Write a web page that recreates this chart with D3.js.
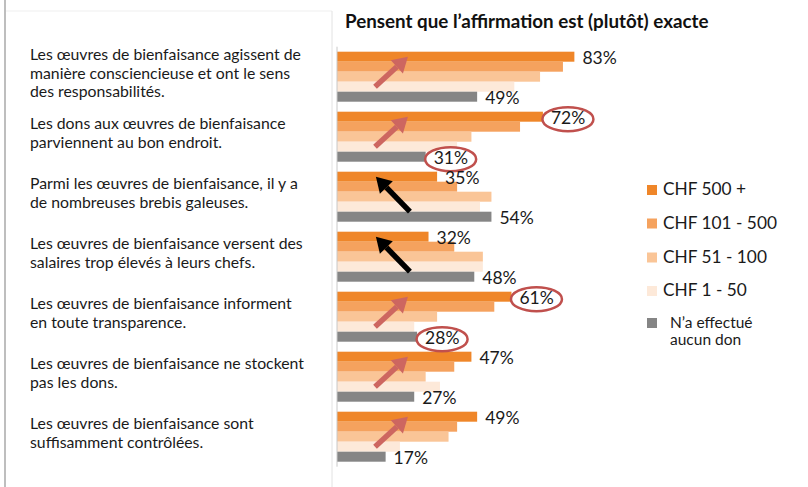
<!DOCTYPE html>
<html><head><meta charset="utf-8">
<script src="https://cdn.jsdelivr.net/npm/d3@7"></script>
<style>html,body{margin:0;padding:0;background:#fff;}svg{display:block;}</style>
</head><body>
<svg id="chart" width="808" height="487"></svg>
<script>
// ---------- data ----------
const title = "Pensent que l’affirmation est (plutôt) exacte";
const categories = [
  ["Les œuvres de bienfaisance agissent de", "manière consciencieuse et ont le sens", "des responsabilités."],
  ["Les dons aux œuvres de bienfaisance", "parviennent au bon endroit."],
  ["Parmi les œuvres de bienfaisance, il y a", "de nombreuses brebis galeuses."],
  ["Les œuvres de bienfaisance versent des", "salaires trop élevés à leurs chefs."],
  ["Les œuvres de bienfaisance informent", "en toute transparence."],
  ["Les œuvres de bienfaisance ne stockent", "pas les dons."],
  ["Les œuvres de bienfaisance sont", "suffisamment contrôlées."]
];
const seriesNames = ["CHF 500 +", "CHF 101 - 500", "CHF 51 - 100", "CHF 1 - 50", "N’a effectué aucun don"];
const chf500 = [83, 72, 35, 32, 61, 47, 49];
const chf101 = [79, 64, 42, 41, 55, 41, 42];
const chf51  = [71, 47, 54, 51, 35, 31, 39];
const chf1   = [62, 42, 50, 51, 27, 36, 22];
const none   = [49, 31, 54, 48, 28, 27, 17];
const seriesValues = [chf500, chf101, chf51, chf1, none];
const seriesColors = ["#EF8629", "#F5A25E", "#FAC597", "#FDE9D9", "#858585"];
// annotations: trend arrow per statement, circled labels
const arrowDir = ["up", "up", "down", "down", "up", "up", "up"];
const circled = [[1, 0], [1, 4], [4, 0], [4, 4]]; // [category, series]

// ---------- layout ----------
const svg = d3.select("#chart");
const font = "Lato, 'Open Sans', sans-serif";

// frame lines
svg.append("line").attr("x1", 5).attr("x2", 5).attr("y1", 0).attr("y2", 487)
  .attr("stroke", "#a8a8a8").attr("stroke-width", 1.5);
svg.append("line").attr("x1", 6).attr("x2", 332).attr("y1", 11).attr("y2", 11)
  .attr("stroke", "#efefef").attr("stroke-width", 1);
svg.append("line").attr("x1", 332).attr("x2", 332).attr("y1", 11).attr("y2", 487)
  .attr("stroke", "#e2e2e2").attr("stroke-width", 1);

const x = d3.scaleLinear().domain([0, 100]).range([337, 623]);
const y = d3.scaleBand().domain(d3.range(categories.length)).range([46.7, 466.7])
  .paddingInner(10 / 60).paddingOuter(5 / 60);
const ys = d3.scaleBand().domain(d3.range(seriesNames.length)).range([0, y.bandwidth()]);

// title
svg.append("text").attr("x", 345).attr("y", 28).text(title)
  .attr("font-family", font).attr("font-weight", 700).attr("font-size", 18.8).attr("fill", "#111");

// category labels
const lh = 18.5;
categories.forEach((lines, i) => {
  const cy = y(i) + y.bandwidth() / 2 - 2;
  const t = svg.append("text").attr("font-family", font).attr("font-size", 15.8).attr("fill", "#1a1a1a");
  lines.forEach((ln, k) => {
    t.append("tspan").attr("x", 30)
      .attr("y", cy + (k - (lines.length - 1) / 2) * lh)
      .attr("dominant-baseline", "middle").text(ln);
  });
});

// bars
const g = svg.append("g");
seriesValues.forEach((vals, s) => {
  g.selectAll(null).data(vals).enter().append("rect")
    .attr("x", x(0)).attr("y", (d, i) => y(i) + ys(s))
    .attr("width", d => x(d) - x(0)).attr("height", ys.bandwidth())
    .attr("fill", seriesColors[s]);
});

// axis line
const ax = svg.append("g").attr("transform", `translate(${x(0)},0)`)
  .call(d3.axisLeft(y).tickSize(0).tickFormat(""));
ax.select(".domain").attr("stroke", "#c8c8c8").attr("stroke-width", 1)
  .attr("d", `M0,${y.range()[0]}V${y.range()[1]}`);

// circled labels (ellipses drawn beneath label text)
circled.forEach(([c, s]) => {
  const v = seriesValues[s][c];
  svg.append("ellipse")
    .attr("cx", x(v) + 25).attr("cy", y(c) + ys(s) + ys.bandwidth() / 2 + 2.5)
    .attr("rx", 25.5).attr("ry", 12)
    .attr("fill", "#fff").attr("stroke", "#C0504D").attr("stroke-width", 2.5);
});

// value labels (first and last series)
[0, 4].forEach(s => {
  svg.selectAll(null).data(seriesValues[s]).enter().append("text")
    .attr("x", d => x(d) + 8)
    .attr("y", (d, i) => y(i) + ys(s) + ys.bandwidth() / 2 + 2.5)
    .attr("dominant-baseline", "middle")
    .attr("font-family", font).attr("font-size", 17.5).attr("fill", "#1a1a1a")
    .text(d => d + "%");
});

// arrows
function arrow(x1, y1, x2, y2, color) {
  const ang = Math.atan2(y2 - y1, x2 - x1);
  const hl = 15, hw = 9;
  const bx = x2 - hl * Math.cos(ang), by = y2 - hl * Math.sin(ang);
  svg.append("line").attr("x1", x1).attr("y1", y1).attr("x2", bx).attr("y2", by)
    .attr("stroke", color).attr("stroke-width", 5.5).attr("stroke-linecap", "butt");
  const px = -Math.sin(ang), py = Math.cos(ang);
  svg.append("path").attr("d",
    `M${x2},${y2}L${bx + px * hw},${by + py * hw}L${bx - px * hw},${by - py * hw}Z`)
    .attr("fill", color);
}
arrowDir.forEach((dir, i) => {
  const top = y(i);
  if (dir === "up") arrow(x(13.3), top + 35, x(24.8), top + 5, "#CD6660");
  else arrow(x(25.5), top + 40, x(13.6), top + 5, "#000");
});

// legend
const legY = [190, 223.5, 257.5, 291, 323];
seriesNames.forEach((name, s) => {
  svg.append("rect").attr("x", 647).attr("y", legY[s] - 5).attr("width", 10).attr("height", 10)
    .attr("fill", seriesColors[s]);
  if (s < 4) {
    svg.append("text").attr("x", 663).attr("y", legY[s] + 1).attr("dominant-baseline", "middle")
      .attr("font-family", font).attr("font-size", 17.3).attr("fill", "#1a1a1a").text(name);
  } else {
    const t = svg.append("text").attr("font-family", font).attr("font-size", 15.5).attr("fill", "#1a1a1a");
    ["N’a effectué", "aucun don"].forEach((ln, k) => {
      t.append("tspan").attr("x", 670).attr("y", legY[s] + 1 + k * 17)
        .attr("dominant-baseline", "middle").text(ln);
    });
  }
});
</script>
</body></html>
